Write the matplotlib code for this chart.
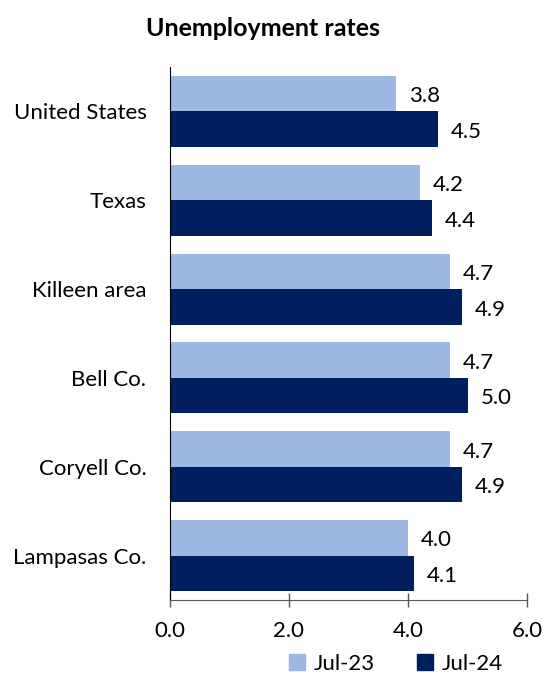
import numpy as np
import matplotlib
matplotlib.use('Agg')
import matplotlib.pyplot as plt
from matplotlib.patches import Patch

plt.rcParams['font.family'] = ['Lato', 'DejaVu Sans']

categories = ['United States', 'Texas', 'Killeen area', 'Bell Co.', 'Coryell Co.', 'Lampasas Co.']
jul_23 = [3.8, 4.2, 4.7, 4.7, 4.7, 4.0]
jul_24 = [4.5, 4.4, 4.9, 5.0, 4.9, 4.1]
series_labels = ['Jul-23', 'Jul-24']
xticks = [0, 2, 4, 6]

light = '#9DB9E3'
dark = '#001F5F'
fs = 16

fig = plt.figure(figsize=(5.44, 6.79), dpi=100)
ax = fig.add_axes([170/544, 1 - 600/679, (527-170)/544, (600-67)/679])

y = np.arange(len(categories))
h = 0.4
ax.barh(y - h/2, jul_23, height=h, color=light)
ax.barh(y + h/2, jul_24, height=h, color=dark)

for yi, v in zip(y, jul_23):
    ax.text(v + 0.22, yi - h/2 + 0.03, f'{v:.1f}', va='center', ha='left', fontsize=fs)
for yi, v in zip(y, jul_24):
    ax.text(v + 0.22, yi + h/2 + 0.03, f'{v:.1f}', va='center', ha='left', fontsize=fs)

ax.set_ylim(len(categories) - 0.5, -0.5)
ax.set_xlim(0, 6)
ax.set_yticks(y)
ax.set_yticklabels(categories, fontsize=fs)
ax.tick_params(axis='y', length=0, pad=17)
ax.set_xticks(xticks)
ax.set_xticklabels([f'{t:.1f}' for t in xticks], fontsize=fs)
ax.tick_params(axis='x', direction='inout', length=10, width=1, color='#595959', pad=10)

for s in ['top', 'right']:
    ax.spines[s].set_visible(False)
ax.spines['bottom'].set_color('#595959')
ax.spines['left'].set_color('black')

fig.text(263/544, 1 - 28/679, 'Unemployment rates', ha='center', va='center',
         fontsize=18, fontweight='bold')

handles = [Patch(color=light), Patch(color=dark)]
fig.legend(handles, series_labels, loc='center', bbox_to_anchor=(396/544, 1 - 664/679),
           ncol=2, frameon=False, fontsize=fs, handlelength=0.7, handleheight=0.7,
           handletextpad=0.4, columnspacing=1.9)

fig.savefig('out.png', dpi=100)
